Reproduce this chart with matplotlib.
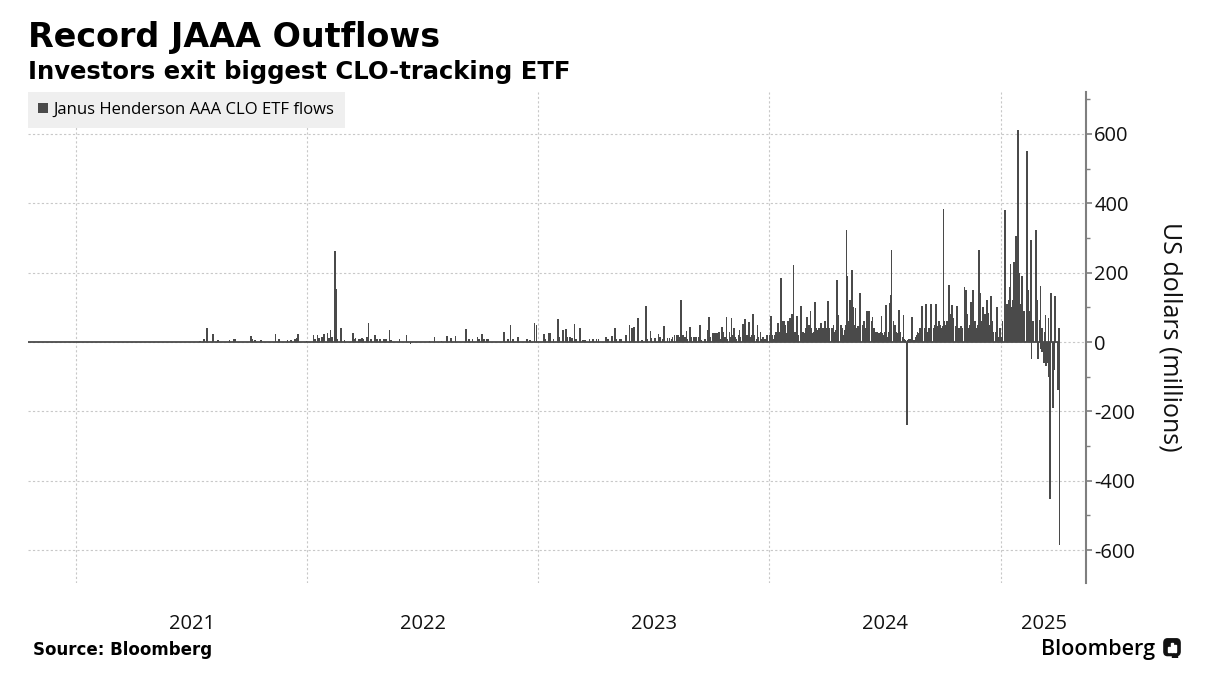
import numpy as np
import pandas as pd
import matplotlib
matplotlib.use("Agg")
import matplotlib.pyplot as plt
import matplotlib.dates as mdates
from matplotlib.ticker import MultipleLocator, FixedLocator, FixedFormatter, NullFormatter
from matplotlib.patches import Patch, FancyBboxPatch, Rectangle

# daily ETF flows in US$ millions, one value per business day,
# each list starting on the date in series_start
flows_2021 = [
    0, 0, 0, 0, 0, 0, 0, 0, 0, 0,
    0, 3, 0, 0, 0, 8, 0, 0, 41, 0,
    0, 0, 0, 0, 0, 24, 0, 0, 0, 0,
    0, 5, 0, 0, 0, 0, 0, 0, 0, 0,
    0, 0, 0, 5, 0, 0, 0, 0, 8, 0,
    0, 10, 0, 0, 0, 0, 0, 0, 0, 0,
    0, 0, 0, 0, 0, 0, 0, 16, 0, 8,
    0, 0, 6, 0, 0, 0, 0, 0, 0, 6,
    0, 0, 0, 0, 0, 0, 0, 0, 0, 0,
    0, 0, 0, 0, 0, 0, 24, 0, 0, 10,
    0, 0, 0, 0, 0, 0, 0, 0, 0, 5,
    0, 0, 5, 0, 0, 0, 0, 10, 0, 12,
    0, 24, 0, 0, 0, 0, 0, 0, 0, 0,
    0, 3,
]
flows_2022 = [
    0, 0, 0, 0, 0, 0, 19, 0, 8, 0,
    20, 0, 0, 12, 0, 15, 0, 10, 0, 22,
    0, 0, 25, 0, 12, 34, 0, 15, 0, 0,
    262, 20, 154, 0, 10, 0, 0, 41, 0, 0,
    0, 5, 0, 0, 0, 0, 0, 0, 0, 0,
    27, 0, 10, 0, 12, 0, 0, 8, 0, 10,
    0, 12, 0, 10, 0, 0, 15, 0, 0, 55,
    0, 10, 0, 0, 0, 21, 0, 0, 10, 0,
    0, 8, 0, 0, 0, 10, 0, 0, 8, 0,
    0, 0, 36, 0, 5, 0, 0, 0, 0, 0,
    0, 0, 0, 0, 8, 0, 0, 0, 0, 0,
    0, 19, 0, 0, 0, -5, 0, 0, 0, 0,
    0, 0, 0, 0, 0, 0, 0, 0, 0, 0,
    0, 0, 0, 0, 0, 0, 0, 3, 0, 0,
    0, 0, 0, 14, 0, 0, 0, 0, 0, 0,
    3, 0, 0, 0, 0, 0, 0, 17, 0, 0,
    0, 12, 0, 0, 0, 0, 18, 0, 0, 0,
    0, 0, 0, 0, 0, 0, 0, 0, 0, 37,
    0, 0, 8, 0, 0, 8, 0, 0, 0, 0,
    0, 15, 0, 8, 0, 0, 24, 0, 0, 10,
    0, 0, 10, 0, 8, 0, 0, 0, 0, 0,
    0, 0, 0, 0, 0, 0, 0, 0, 0, 0,
    0, 30, 0, 0, 0, 10, 0, 0, 0, 50,
    0, 10, 0, 0, 0, 0, 0, 15, 0, 0,
    0, 0, 0, 0, 0, 0, 0, 8, 0, 0,
    5, 0, 0, 0, 0, 55, 0, 0, 50, 0,
]
flows_2023 = [
    0, 0, 0, 0, 0, 0, 24, 0, 10, 0,
    0, 0, 27, 0, 27, 0, 0, 8, 0, 0,
    0, 0, 66, 0, 15, 0, 0, 0, 36, 0,
    0, 37, 0, 15, 0, 15, 0, 0, 12, 0,
    51, 0, 10, 0, 0, 0, 0, 40, 0, 0,
    5, 0, 0, 5, 0, 0, 0, 0, 8, 0,
    0, 10, 0, 0, 0, 8, 0, 0, 10, 0,
    0, 0, 0, 0, 0, 0, 14, 0, 0, 10,
    0, 0, 0, 18, 0, 0, 40, 0, 10, 0,
    0, 8, 0, 0, 8, 0, 0, 0, 0, 20,
    0, 0, 0, 50, 0, 40, 0, 0, 42, 0,
    0, 0, 69, 0, 0, 0, 0, 5, 0, 0,
    0, 105, 0, 10, 0, 0, 31, 0, 12, 0,
    0, 12, 0, 0, 0, 24, 0, 15, 0, 0,
    10, 0, 45, 0, 0, 12, 0, 0, 12, 0,
    10, 15, 0, 0, 20, 10, 20, 0, 20, 15,
    120, 10, 0, 20, 0, 15, 0, 31, 10, 0,
    15, 43, 10, 15, 0, 15, 10, 0, 15, 10,
    15, 0, 48, 0, 5, 0, 0, 0, 10, 0,
    15, 34, 0, 72, 15, 0, 25, 10, 25, 15,
    25, 10, 25, 15, 30, 10, 0, 43, 20, 30,
    15, 0, 72, 10, 0, 30, 15, 0, 70, 20,
    40, 0, 15, 10, 0, 20, 10, 35, 15, 0,
    51, 15, 0, 67, 0, 20, 10, 0, 58, 15,
    20, 0, 80, 15, 20, 0, 10, 50, 15, 0,
    30, 10, 0, 10, 15, 10, 0, 10, 20, 0,
]
flows_2024 = [
    0, 20, 74, 15, 20, 10, 15, 20, 30, 15,
    55, 20, 30, 25, 186, 60, 30, 61, 30, 50,
    25, 60, 30, 35, 69, 30, 80, 25, 223, 30,
    30, 40, 75, 20, 20, 25, 103, 30, 20, 30,
    25, 40, 30, 72, 35, 50, 30, 89, 40, 25,
    30, 35, 114, 30, 40, 35, 40, 30, 35, 55,
    30, 40, 35, 30, 60, 40, 30, 117, 35, 40,
    30, 40, 35, 50, 30, 35, 45, 178, 50, 77,
    40, 50, 35, 40, 20, 35, 50, 40, 324, 190,
    60, 120, 50, 40, 209, 100, 50, 45, 99, 40,
    45, 40, 35, 141, 0, 40, 50, 60, 45, 40,
    88, 70, 50, 88, 40, 60, 45, 72, 35, 40,
    30, 25, 30, 25, 20, 25, 30, 74, 25, 20,
    30, 25, 106, 20, 15, 30, 113, 137, 50, 265,
    60, 50, 40, 50, 30, 25, 30, 91, 30, 20,
    15, 10, 79, 10, 5, -240, 5, 0, 10, 5,
    10, 72, 15, 5, 5, 10, 15, 20, 30, 25,
    40, 30, 35, 103, 30, 40, 40, 110, 35, 30,
    40, 35, 30, 110, 40, 40, 30, 50, 40, 110,
    45, 50, 60, 40, 50, 40, 45, 385, 60, 50,
    60, 50, 40, 60, 163, 80, 106, 60, 50, 70,
    45, 40, 103, 50, 40, 40, 35, 45, 40, 35,
    160, 60, 149, 50, 82, 40, 50, 45, 115, 60,
    151, 50, 45, 60, 40, 50, 60, 265, 70, 141,
    60, 101, 50, 70, 80, 60, 122, 60, 84, 50,
    132, 40, 60, 30, 20, 0, 30, 101, 40, 15,
    40, 30,
]
flows_2025 = [
    0, 15, 60, 197, 380, 289, 100, 110, 120, 110,
    159, 226, 100, 120, 231, 90, 150, 305, 130, 611,
    200, 110, 110, 190, 80, 70, 90, 80, 100, 551,
    120, 150, 90, 293, -50, 5, 60, 40, 50, 324,
    60, 122, -50, 63, 162, -20, 40, -30, -60, 30,
    79, -70, -60, 70, -100, -452, -120, 141, -190, -80,
    60, 132, 72, -77, -138, 40, -584,
]
series_start = ["2021-07-01", "2022-01-03", "2023-01-02", "2024-01-01", "2025-01-01"]
year_labels = ["2021", "2022", "2023", "2024", "2025"]

title = "Record JAAA Outflows"
subtitle = "Investors exit biggest CLO-tracking ETF"
legend_label = "Janus Henderson AAA CLO ETF flows"

bar_color = "#4a4a4a"
grid_color = "#c8c8c8"


def build_series():
    parts = [flows_2021, flows_2022, flows_2023, flows_2024, flows_2025]
    dates, values = [], []
    for start, vals in zip(series_start, parts):
        dates.extend(pd.bdate_range(start, periods=len(vals)))
        values.extend(vals)
    return pd.to_datetime(dates), np.array(values, dtype=float)


def main():
    plt.rcParams['font.family'] = ['Open Sans', 'DejaVu Sans']
    plt.rcParams['axes.unicode_minus'] = False

    dates, values = build_series()

    fig = plt.figure(figsize=(12.16, 6.98), dpi=100)
    ax = fig.add_axes([28 / 1216, 1 - 583 / 698, (1086 - 28) / 1216, (583 - 92) / 698])

    x_left = pd.Timestamp("2020-10-17")
    x_right = pd.Timestamp("2025-05-15")
    ax.set_xlim(x_left, x_right)
    ax.set_ylim(-695, 721)

    ax.bar(dates, values, width=2.6, color=bar_color, linewidth=0,
           antialiased=False, zorder=3)
    ax.hlines(0, x_left, dates[-1], color=bar_color, lw=1.3, zorder=4)

    # y axis on the right
    ax.yaxis.tick_right()
    ax.yaxis.set_label_position("right")
    ax.yaxis.set_major_locator(MultipleLocator(200))
    ax.yaxis.set_minor_locator(MultipleLocator(100))
    for s in ["left", "top", "bottom"]:
        ax.spines[s].set_visible(False)
    ax.spines["right"].set_color("#7f7f7f")
    ax.spines["right"].set_linewidth(1.5)
    ax.tick_params(axis="y", which="major", length=4, width=1.2, color="#7f7f7f",
                   pad=2, labelsize=14.5, labelcolor="#111111")
    ax.tick_params(axis="y", which="minor", length=3, width=1, color="#7f7f7f")
    ax.set_ylabel("US dollars (millions)", fontsize=18, rotation=270,
                  va="center", color="#111111")
    ax.yaxis.set_label_coords(1.0794, 0.501)

    # x axis: gridlines at year starts, labels centred on each visible year
    ax.xaxis.set_major_locator(mdates.YearLocator())
    ax.xaxis.set_major_formatter(NullFormatter())
    lo, hi = ax.get_xlim()
    mids = []
    for y in year_labels:
        a = max(mdates.date2num(pd.Timestamp(f"{y}-01-01")), lo)
        b = min(mdates.date2num(pd.Timestamp(f"{int(y) + 1}-01-01")), hi)
        mids.append((a + b) / 2)
    ax.xaxis.set_minor_locator(FixedLocator(mids))
    ax.xaxis.set_minor_formatter(FixedFormatter(year_labels))
    ax.tick_params(axis="x", which="both", length=0, pad=22, labelsize=14.5,
                   labelcolor="#111111")

    ax.grid(axis="y", which="major", color=grid_color, ls=(0, (2, 2)), lw=0.8, zorder=0)
    ax.grid(axis="x", which="major", color=grid_color, ls=(0, (2, 2)), lw=0.8, zorder=0)

    leg = ax.legend(handles=[Patch(facecolor=bar_color, label=legend_label)],
                    loc="upper left", bbox_to_anchor=(0, 1), borderaxespad=0,
                    frameon=True, fancybox=False, facecolor="#efefef",
                    edgecolor="none", framealpha=1, fontsize=12,
                    handlelength=0.6, handleheight=0.6, handletextpad=0.35,
                    borderpad=0.6)
    leg.set_zorder(5)

    # titles and footer
    fig.text(28 / 1216, 1 - 47 / 698, title, fontsize=24, fontweight="bold",
             family="DejaVu Sans", va="baseline", ha="left")
    fig.text(28 / 1216, 1 - 79 / 698, subtitle, fontsize=17.5, fontweight="bold",
             family="DejaVu Sans", va="baseline", ha="left")
    fig.text(33 / 1216, 1 - 655 / 698, "Source: Bloomberg", fontsize=12,
             fontweight="bold", family="DejaVu Sans", va="baseline", ha="left")
    fig.text(1155 / 1216, 1 - 655 / 698, "Bloomberg", fontsize=15.5,
             fontweight="semibold", va="baseline", ha="right")

    # small logo mark
    lax = fig.add_axes([1163 / 1216, 1 - 658 / 698, 18 / 1216, 20 / 698])
    lax.set_xlim(0, 1)
    lax.set_ylim(0, 1)
    lax.axis("off")
    lax.add_patch(FancyBboxPatch((0.05, 0.12), 0.9, 0.84,
                                 boxstyle="round,pad=0,rounding_size=0.2",
                                 color="#111111"))
    lax.add_patch(Rectangle((0.5, -0.05), 0.25, 0.2, color="#111111"))
    for bx, bh in zip([0.28, 0.45, 0.62], [0.25, 0.45, 0.35]):
        lax.add_patch(Rectangle((bx, 0.3), 0.1, bh, color="white"))

    fig.savefig("out.png", dpi=100)


if __name__ == "__main__":
    main()
